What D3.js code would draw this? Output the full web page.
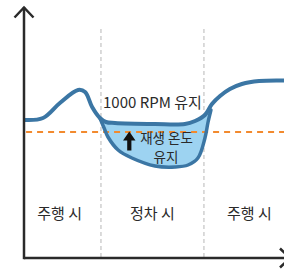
<!DOCTYPE html>
<html><head><meta charset="utf-8">
<script src="https://cdn.jsdelivr.net/npm/d3@7"></script>
<style>html,body{margin:0;padding:0;background:#fff;overflow:hidden}</style>
</head><body>
<svg id="c" width="284" height="269"></svg>
<script>
// ---- data ----
const phaseLabels = ["주행 시", "정차 시", "주행 시"];
const phaseLabelPos = [13.7, 49.4, 86.7];
const phaseDividers = [29.6, 69.2];
const thresholdValue = 50.4;          // 재생 온도 기준선
const rpmTime = [0.4, 7.3, 13.8, 20.8, 23.5, 26.2, 29.2, 31.5, 35, 50.4, 61.9, 65.8, 69.6, 72.3, 75.4, 79.2, 83.8, 90.4, 100];
const rpmValue = [55.2, 56, 62, 67.2, 66.4, 60.4, 56, 54.4, 54, 53.6, 53.6, 54.8, 57.2, 61.6, 64.8, 67.6, 69.6, 70.8, 71];
const tempTime = [29.2, 30.8, 32.3, 36.2, 41.5, 50.4, 58.1, 63.1, 66.9, 69.6, 70.8, 71.9];
const tempValue = [56, 52, 48.4, 43.2, 40, 36.8, 36.4, 37.2, 40, 48, 54.4, 59.2];
const rpmLabel = "1000 RPM 유지";
const keepLabel = ["재생 온도", "유지"];

// ---- scales ----
const x = d3.scaleLinear().domain([0, 100]).range([24, 284]);
const y = d3.scaleLinear().domain([0, 100]).range([258, 8]);
const svg = d3.select("#c");
const font = "'Noto Sans CJK KR', 'Noto Sans', sans-serif";
const blue = "#3b76a4", fillBlue = "#9dd3f1", orange = "#f28a2e", ink = "#2a2a2a";

const rpm = rpmTime.map((t, i) => [t, rpmValue[i]]);
const temp = tempTime.map((t, i) => [t, tempValue[i]]);
const line = d3.line().x(d => x(d[0])).y(d => y(d[1])).curve(d3.curveCatmullRom.alpha(0.5));

// dividers
svg.selectAll(".div").data(phaseDividers).join("line")
  .attr("x1", d => x(d)).attr("x2", d => x(d))
  .attr("y1", y(91.6)).attr("y2", y(0))
  .attr("stroke", "#cfcfcf").attr("stroke-width", 1.5).attr("stroke-dasharray", "4,3");

// fill region between curves
const t0 = tempTime[0], t1 = tempTime[tempTime.length - 1];
const topSeg = rpm.filter(d => d[0] > t0 && d[0] < t1).reverse();
const fillPts = temp.concat(topSeg);
svg.append("path").attr("d", d3.line().x(d => x(d[0])).y(d => y(d[1])).curve(d3.curveCatmullRomClosed)(fillPts))
  .attr("fill", fillBlue).attr("stroke", "none");

// threshold line
svg.append("line").attr("x1", x(0.8)).attr("x2", x(100)).attr("y1", y(thresholdValue)).attr("y2", y(thresholdValue))
  .attr("stroke", orange).attr("stroke-width", 2).attr("stroke-dasharray", "6,5");

// curves
svg.append("path").attr("d", line(temp)).attr("fill", "none").attr("stroke", blue)
  .attr("stroke-width", 3.5).attr("stroke-linecap", "round");
svg.append("path").attr("d", line(rpm)).attr("fill", "none").attr("stroke", blue)
  .attr("stroke-width", 4).attr("stroke-linecap", "round");

// texts
svg.append("text").attr("x", x(49.4)).attr("y", 108).attr("text-anchor", "middle")
  .attr("font-family", font).attr("font-size", 15).attr("fill", ink).text(rpmLabel);
const keep = svg.append("text").attr("text-anchor", "middle")
  .attr("font-family", font).attr("font-size", 13.5).attr("fill", ink);
keep.append("tspan").attr("x", 166.5).attr("y", 142.5).text(keepLabel[0]);
keep.append("tspan").attr("x", 166).attr("y", 162).text(keepLabel[1]);
// up arrow
svg.append("path").attr("d", "M129.3,131.5 L135.5,140.5 L131.4,140.5 L131.4,150.5 L127.2,150.5 L127.2,140.5 L123,140.5 Z")
  .attr("fill", "#111");

svg.selectAll(".ph").data(phaseLabels).join("text")
  .attr("x", (d, i) => x(phaseLabelPos[i])).attr("y", 219).attr("text-anchor", "middle")
  .attr("font-family", font).attr("font-size", 15).attr("fill", ink).text(d => d);

// axes
svg.append("line").attr("x1", x(0)).attr("x2", x(0)).attr("y1", 7).attr("y2", y(0) + 1.2)
  .attr("stroke", ink).attr("stroke-width", 2.5);
svg.append("path").attr("d", "M14.5,17.5 L24,7.5 L33.5,17.5").attr("fill", "none")
  .attr("stroke", ink).attr("stroke-width", 2.5);
svg.append("line").attr("x1", x(0)).attr("x2", 292).attr("y1", y(0)).attr("y2", y(0))
  .attr("stroke", ink).attr("stroke-width", 2.5);
svg.append("path").attr("d", "M280,248.5 L290,258 L280,267.5").attr("fill", "none")
  .attr("stroke", ink).attr("stroke-width", 2.5);
</script>
</body></html>
